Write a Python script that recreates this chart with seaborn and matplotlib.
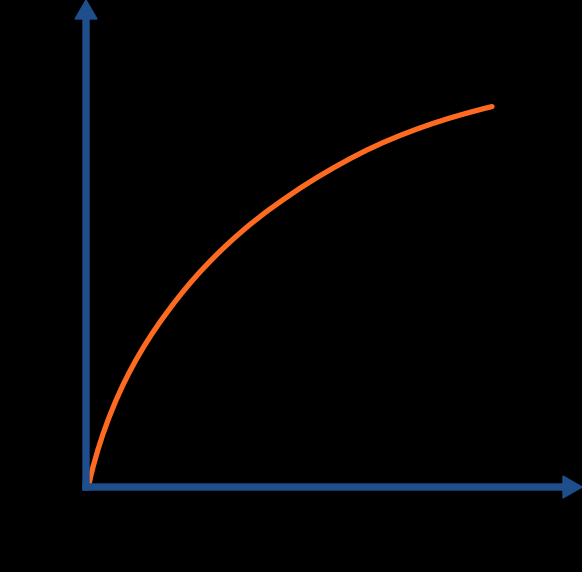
import numpy as np
import pandas as pd
import seaborn as sns
import matplotlib
matplotlib.use("Agg")
import matplotlib.pyplot as plt

curve_x = [3, 5, 7, 12, 17, 23, 30, 37, 43, 50, 58, 66, 74, 81, 89, 97, 106,
           114, 123, 131, 139, 147, 156, 164, 181, 197, 214, 231, 247, 264,
           281, 297, 314, 331, 347, 364, 381, 397, 406]
curve_y = [3, 12, 20, 37.5, 53, 69.5, 86.7, 102.1, 114.1, 127.1, 140.7, 153.3,
           165, 174.6, 185.3, 195.4, 206.1, 215.1, 224.6, 232.7, 240.4, 247.8,
           255.7, 262.5, 275.8, 287.2, 298.8, 309.5, 318.9, 328.3, 337, 344.4,
           351.5, 358, 363.6, 369, 373.9, 378.2, 380.4]

axis_color = "#1F4E8C"
curve_color = "#FF6A21"

sns.set_theme(style="white")

df = pd.DataFrame({"x": curve_x, "y": curve_y})

fig = plt.figure(figsize=(5.82, 5.72), dpi=100, facecolor="black")
ax = fig.add_axes([0, 0, 1, 1])
ax.set_facecolor("black")

sns.lineplot(data=df, x="x", y="y", color=curve_color, linewidth=3.8,
             ax=ax, estimator=None, sort=True,
             solid_joinstyle="round", solid_capstyle="round")

# axes drawn as arrows
ax.arrow(-3, 0, 499, 0, width=6, head_width=22, head_length=19,
         length_includes_head=True, color=axis_color, zorder=3)
ax.arrow(0, -3, 0, 490, width=6, head_width=22, head_length=19,
         length_includes_head=True, color=axis_color, zorder=3)

ax.set_xlim(-86, 496)
ax.set_ylim(-85, 487)
ax.set_axis_off()

fig.savefig("out.png", dpi=100, facecolor="black")
